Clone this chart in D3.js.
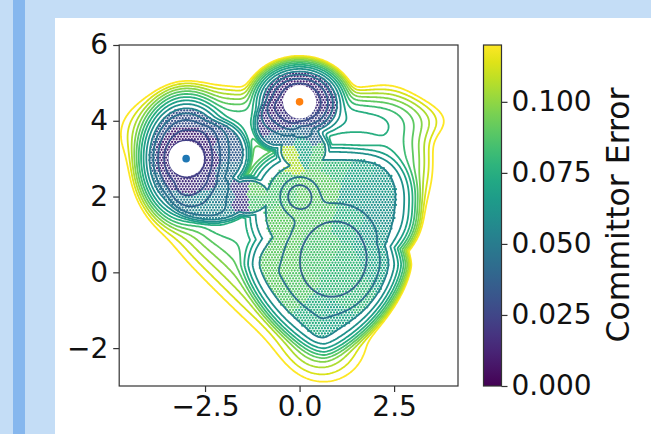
<!DOCTYPE html>
<html>
<head>
<meta charset="utf-8">
<script src="https://d3js.org/d3.v7.min.js"></script>
<style>
  body { margin: 0; background: #fff; }
  text { font-family: "DejaVu Sans", sans-serif; fill: #111; }
</style>
</head>
<body>
<svg width="651" height="434"></svg>
<script>
// ticks
var xTicks = [-2.5, 0, 2.5];
var yTicks = [-2, 0, 2, 4, 6];
var cbTicks = [0, 0.025, 0.05, 0.075, 0.1];

// free energy surface, F = -log(sum of wells + max of flat basins)
// kind 0 = well added in, kind 1 = flat basin (taken by max)
var wellName = ["A core", "A", "B core", "B", "C", "D", "T", "E1", "E2", "U", "W", "K1", "A2", "A3", "B2", "M", "N", "P0", "P1"];
var wellKind = [0, 0, 0, 0, 0, 0, 0, 0, 0, 0, 0, 0, 1, 1, 1, 1, 1, 1, 1];
var wellW    = [8, 0.82, 6, 0.82, 0.38, 0.32, 0.074, 0.05, 0.05, 0.03, 0.05, 0.03, 0.2, 0.165, 0.165, 0.165, 0.165, 0.165, 0.165];
var wellX    = [-3, -3, 0, 0, 0, 0.91, 0.55, -2.4, -0.7, -2.4, 0.6, 2.3, -2.3, -2.2, -0.6, -1.35, 0.1, 0.65, 0.8];
var wellY    = [3, 3, 4.5, 4.5, 2, 0.36, -1.5, 1.7, 0.1, 3.7, 4.0, 2.9, 2.0, 3.1, 3.9, 2.0, 3.2, 0.2, 1.75];
var wellSx   = [0.18, 0.56, 0.16, 0.56, 0.27, 0.78, 0.185, 0.45, 0.6, 0.9, 1.2, 0.5, 0.75, 0.58, 0.4, 0.46, 0.5, 1.34, 1.43];
var wellSy   = [0.18, 0.76, 0.16, 0.465, 0.27, 0.88, 0.22, 0.25, 0.28, 0.5, 0.33, 0.8, 0.45, 0.6, 0.45, 0.36, 0.4, 1.47, 1.05];
var wellTilt = [0, 0, 0, 0, 0, -8, 0, -50, -50, 0, 0, 0, 0, 0, 0, 0, 0, 0, 0];
var wellP    = [1, 1.5, 1, 1.5, 1, 1.66, 0.5, 0.5, 0.5, 1, 1, 1, 4, 4, 4, 4, 4, 4, 4];
var wellM    = [2, 2, 2, 2, 2, 2, 2, 2, 2, 2, 2, 2, 2, 2, 2, 2, 2, 1.5, 2.5];

var levels = [-1.5, -1, -0.5, 0, 0.5, 1, 1.5, 2, 2.5, 3, 3.5, 4, 4.5, 5, 5.5, 6, 6.5];
var sampleMax = 2.05;

// end states
var stateX = [-3, 0];
var stateY = [3, 4.5];
var stateR = [0.47, 0.44];
var stateColor = ["#1f77b4", "#ff7f0e"];

// committor error, read region by region
var errX = [-3.0, -3.6, -2.4, -3.0, -3.45, -2.55, -3.45, -2.55,
            -3.0, -3.7, -4.0, -3.8, -3.2, -2.3, -2.0, -1.9, -2.5, -2.0, -1.95,
            -1.55, -1.55,
            0.0, -0.6, 0.6, -0.45, 0.45, 0.4, -0.3,
            -0.3, 0.1, 0.6, 1.0,
            -0.6, -1.15, -1.15, -0.5, -0.6, -0.2, 0.4, 0.9, 0.5, 0.5, 0.6, 1.2, 1.3, 1.9, 1.3,
            1.6, 2.1, 2.2, 1.6, 1.9, 2.2, -0.7];
var errY = [3.6, 3.0, 3.0, 2.4, 3.45, 3.45, 2.55, 2.55,
            4.1, 3.7, 3.0, 2.3, 1.85, 3.9, 3.2, 2.6, 1.8, 2.0, 1.65,
            1.75, 2.25,
            5.05, 4.5, 4.5, 4.0, 4.0, 3.6, 3.6,
            3.1, 3.3, 3.2, 2.9,
            2.3, 1.8, 2.2, 1.2, 0.4, -0.5, -1.1, -1.2, 2.2, 1.5, 0.6, 0.2, -0.5, 0.5, 1.3,
            2.0, 1.6, 2.4, 2.6, 1.0, 0.2, -0.2];
var errV = [0.012, 0.014, 0.016, 0.016, 0.012, 0.014, 0.018, 0.02,
            0.03, 0.03, 0.035, 0.045, 0.05, 0.03, 0.035, 0.045, 0.055, 0.05, 0.055,
            0.02, 0.022,
            0.012, 0.014, 0.016, 0.02, 0.025, 0.04, 0.045,
            0.105, 0.07, 0.085, 0.08,
            0.085, 0.085, 0.09, 0.09, 0.09, 0.088, 0.075, 0.07, 0.09, 0.088, 0.085, 0.08, 0.08, 0.07, 0.075,
            0.065, 0.06, 0.065, 0.07, 0.065, 0.07, 0.09];

var svg = d3.select("svg");

// page background
svg.append("rect").attr("width", 651).attr("height", 434).attr("fill", "#c4ddf6");
svg.append("rect").attr("x", 13).attr("width", 12).attr("height", 434).attr("fill", "#86b7ee");
svg.append("rect").attr("x", 55).attr("y", 18).attr("width", 596).attr("height", 416).attr("fill", "#fff");

var x = d3.scaleLinear().domain([-4.77, 4.19]).range([119.2, 458]);
var y = d3.scaleLinear().domain([-3, 6]).range([386, 45]);
var color = d3.scaleSequential(d3.interpolateViridis).domain([0, 0.12]);
var lineColor = d3.scaleSequential(d3.interpolateViridis).domain(d3.extent(levels));

var rad = Math.PI / 180;
function freeEnergy(px, py) {
  var sum = 0, flat = 0;
  for (var i = 0; i < wellW.length; i++) {
    var c = Math.cos(wellTilt[i] * rad), s = Math.sin(wellTilt[i] * rad);
    var dx = px - wellX[i], dy = py - wellY[i];
    var u = Math.abs((c * dx + s * dy) / wellSx[i]);
    var v = Math.abs((-s * dx + c * dy) / wellSy[i]);
    var m = wellM[i];
    var q = Math.pow(Math.pow(u, m) + Math.pow(v, m), 2 / m);
    var g = wellW[i] * Math.exp(-Math.pow(q / 2, wellP[i]));
    if (wellKind[i] === 1) flat = Math.max(flat, g);
    else sum += g;
  }
  var p = sum + flat;
  return p > 0 ? Math.min(-Math.log(p), 40) : 40;
}

// sampled points on a hex lattice inside the explored region
var step = 0.08;
var samples = [];
var delaunay = d3.Delaunay.from(errX.map(function(d, i) { return [d, errY[i]]; }));
for (var row = 0, yy = -3; yy <= 6; row++, yy = -3 + row * step * 0.866) {
  for (var xx = -4.77 + (row % 2) * step / 2; xx <= 4.19; xx += step) {
    if (freeEnergy(xx, yy) > sampleMax) continue;
    samples.push({x: xx, y: yy, e: errV[delaunay.find(xx, yy)]});
  }
}

svg.append("g").selectAll("circle").data(samples).join("circle")
  .attr("cx", function(d) { return x(d.x); })
  .attr("cy", function(d) { return y(d.y); })
  .attr("r", 1.15)
  .attr("fill", function(d) { return color(d.e); });

// contour lines (negated so each level is a closed region around the wells)
var nx = 260, ny = 260;
var gx = (4.19 + 4.77) / nx, gy = 9 / ny;
var grid = new Array(nx * ny);
for (var j = 0; j < ny; j++) {
  for (var i = 0; i < nx; i++) {
    grid[j * nx + i] = -freeEnergy(-4.77 + (i + 0.5) * gx, 6 - (j + 0.5) * gy);
  }
}
var contours = d3.contours().size([nx, ny]).thresholds(levels.map(function(l) { return -l; }))(grid);
var proj = d3.geoTransform({
  point: function(px, py) { this.stream.point(x(-4.77 + px * gx), y(6 - py * gy)); }
});
var path = d3.geoPath(proj);
svg.append("g").selectAll("path").data(contours).join("path")
  .attr("d", path)
  .attr("fill", "none")
  .attr("stroke", function(d) { return lineColor(-d.value); })
  .attr("stroke-width", 1.8);

// end states
svg.append("g").selectAll("circle").data(stateX).join("circle")
  .attr("cx", function(d) { return x(d); })
  .attr("cy", function(d, i) { return y(stateY[i]); })
  .attr("r", function(d, i) { return x(stateR[i]) - x(0); })
  .attr("fill", "#fff");
svg.append("g").selectAll("circle").data(stateX).join("circle")
  .attr("cx", function(d) { return x(d); })
  .attr("cy", function(d, i) { return y(stateY[i]); })
  .attr("r", 3.8)
  .attr("fill", function(d, i) { return stateColor[i]; });

// axes
svg.append("rect").attr("x", 119.2).attr("y", 45).attr("width", 458 - 119.2).attr("height", 341)
  .attr("fill", "none").attr("stroke", "#333").attr("stroke-width", 1.2);

var xAxis = svg.append("g").attr("transform", "translate(0,386)")
  .call(d3.axisBottom(x).tickValues(xTicks).tickFormat(d3.format(".1f")).tickSize(6).tickPadding(4));
var yAxis = svg.append("g").attr("transform", "translate(119.2,0)")
  .call(d3.axisLeft(y).tickValues(yTicks).tickFormat(d3.format("d")).tickSize(6).tickPadding(5));
[xAxis, yAxis].forEach(function(a) {
  a.select(".domain").remove();
  a.selectAll("line").attr("stroke", "#333").attr("stroke-width", 1.2);
  a.selectAll("text").attr("font-family", "DejaVu Sans").attr("font-size", 28).attr("fill", "#111");
});

// colorbar
var cb = d3.scaleLinear().domain([0, 0.12]).range([386, 45]);
var grad = svg.append("defs").append("linearGradient").attr("id", "vir")
  .attr("x1", 0).attr("y1", 1).attr("x2", 0).attr("y2", 0);
grad.selectAll("stop").data(d3.range(0, 1.001, 0.05)).join("stop")
  .attr("offset", function(d) { return d; })
  .attr("stop-color", function(d) { return d3.interpolateViridis(d); });
svg.append("rect").attr("x", 483.5).attr("y", 45).attr("width", 18).attr("height", 341)
  .attr("fill", "url(#vir)").attr("stroke", "#333").attr("stroke-width", 1.2);
var cbAxis = svg.append("g").attr("transform", "translate(501.5,0)")
  .call(d3.axisRight(cb).tickValues(cbTicks).tickFormat(d3.format(".3f")).tickSize(6).tickPadding(4));
cbAxis.select(".domain").remove();
cbAxis.selectAll("line").attr("stroke", "#333").attr("stroke-width", 1.2);
cbAxis.selectAll("text").attr("font-family", "DejaVu Sans").attr("font-size", 28).attr("fill", "#111");

svg.append("text")
  .attr("transform", "translate(629,215) rotate(-90)")
  .attr("text-anchor", "middle")
  .attr("font-size", 31.5)
  .text("Committor Error");
</script>
</body>
</html>
